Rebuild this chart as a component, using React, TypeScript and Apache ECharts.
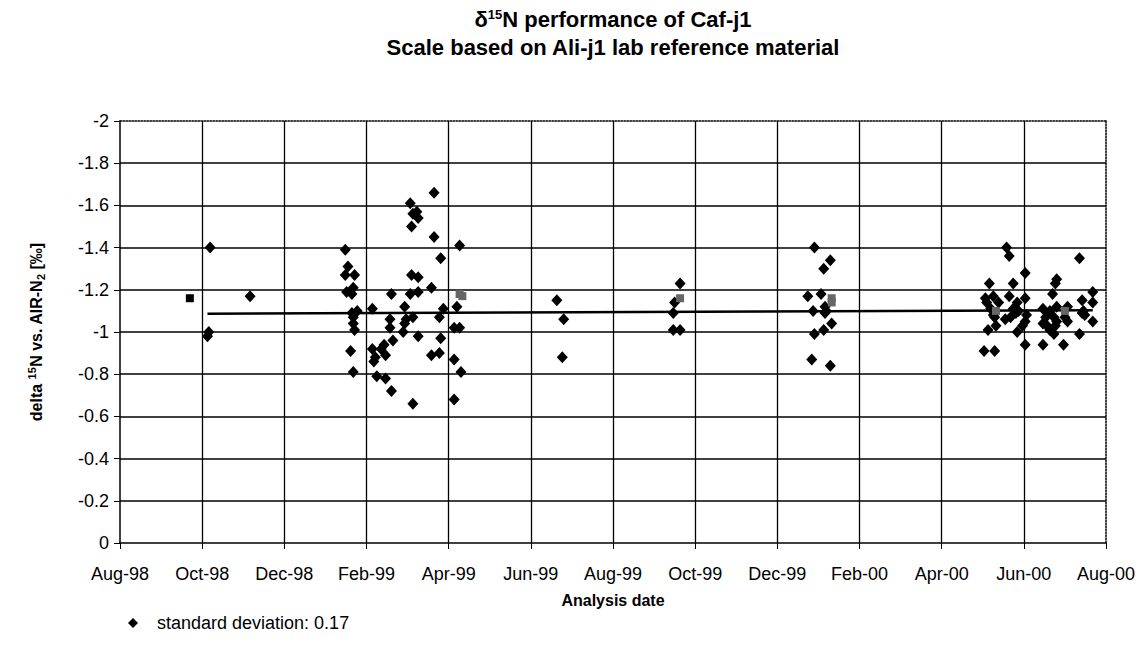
import React, { useEffect, useRef } from 'react';
import * as echarts from 'echarts';

const xTickLabels = ['Aug-98', 'Oct-98', 'Dec-98', 'Feb-99', 'Apr-99', 'Jun-99', 'Aug-99', 'Oct-99', 'Dec-99', 'Feb-00', 'Apr-00', 'Jun-00', 'Aug-00'];

const legendName = 'standard deviation: 0.17';

// [analysis date, delta 15N]
const autumn98: [string, number][] = [
  ['1998-10-07', -1.40], ['1998-10-06', -1.00], ['1998-10-05', -0.98], ['1998-11-06', -1.17],
];

const spring99: [string, number][] = [
  ['1999-03-21', -1.66], ['1999-03-03', -1.61], ['1999-03-05', -1.56], ['1999-03-08', -1.57],
  ['1999-03-09', -1.54], ['1999-03-04', -1.50], ['1999-03-21', -1.45], ['1999-04-09', -1.41],
  ['1999-01-16', -1.39], ['1999-03-26', -1.35], ['1999-01-18', -1.31], ['1999-01-16', -1.27],
  ['1999-01-23', -1.27], ['1999-03-04', -1.27], ['1999-03-09', -1.26], ['1999-03-19', -1.21],
  ['1999-01-17', -1.19], ['1999-01-22', -1.21], ['1999-01-21', -1.18], ['1999-02-18', -1.18],
  ['1999-03-03', -1.18], ['1999-03-09', -1.19], ['1999-04-07', -1.12], ['1999-02-27', -1.12],
  ['1999-02-05', -1.11], ['1999-03-28', -1.11], ['1999-01-21', -1.09], ['1999-01-25', -1.10],
  ['1999-01-22', -1.07], ['1999-03-05', -1.07], ['1999-02-28', -1.06], ['1999-03-25', -1.07],
  ['1999-02-17', -1.06], ['1999-02-17', -1.02], ['1999-02-27', -1.04], ['1999-02-26', -1.00],
  ['1999-01-22', -1.04], ['1999-01-23', -1.01], ['1999-04-05', -1.02], ['1999-04-09', -1.02],
  ['1999-03-09', -0.98], ['1999-02-19', -0.96], ['1999-03-26', -0.97], ['1999-02-13', -0.94],
  ['1999-02-11', -0.92], ['1999-02-14', -0.89], ['1999-02-05', -0.92], ['1999-02-07', -0.88],
  ['1999-02-06', -0.86], ['1999-01-20', -0.91], ['1999-03-19', -0.89], ['1999-03-25', -0.90],
  ['1999-04-05', -0.87], ['1999-01-22', -0.81], ['1999-04-10', -0.81], ['1999-02-08', -0.79],
  ['1999-02-14', -0.78], ['1999-02-18', -0.72], ['1999-04-05', -0.68], ['1999-03-05', -0.66],
];

const summer99: [string, number][] = [
  ['1999-06-20', -1.15], ['1999-06-25', -1.06], ['1999-06-24', -0.88],
  ['1999-09-20', -1.23], ['1999-09-16', -1.14], ['1999-09-15', -1.09], ['1999-09-15', -1.01],
  ['1999-09-20', -1.01],
];

const winter00: [string, number][] = [
  ['1999-12-29', -1.40], ['2000-01-10', -1.34], ['2000-01-05', -1.30], ['1999-12-24', -1.17],
  ['2000-01-03', -1.18], ['1999-12-28', -1.10], ['2000-01-06', -1.12], ['2000-01-06', -1.09],
  ['2000-01-07', -1.10], ['2000-01-11', -1.04], ['2000-01-05', -1.01], ['1999-12-29', -0.99],
  ['1999-12-27', -0.87], ['2000-01-10', -0.84],
];

const summer00: [string, number][] = [
  ['2000-05-19', -1.40], ['2000-05-21', -1.36], ['2000-07-12', -1.35], ['2000-06-02', -1.28],
  ['2000-06-25', -1.25], ['2000-06-24', -1.23], ['2000-05-06', -1.23], ['2000-05-24', -1.23],
  ['2000-07-22', -1.19], ['2000-06-22', -1.18], ['2000-05-03', -1.16], ['2000-05-09', -1.17],
  ['2000-05-13', -1.14], ['2000-05-21', -1.17], ['2000-06-02', -1.16], ['2000-05-27', -1.14],
  ['2000-07-14', -1.15], ['2000-07-22', -1.14], ['2000-05-04', -1.14], ['2000-05-07', -1.11],
  ['2000-05-24', -1.11], ['2000-05-28', -1.10], ['2000-05-26', -1.09], ['2000-06-15', -1.11],
  ['2000-06-25', -1.12], ['2000-06-20', -1.10], ['2000-07-03', -1.12], ['2000-07-15', -1.10],
  ['2000-07-14', -1.09], ['2000-05-09', -1.08], ['2000-05-10', -1.07], ['2000-05-22', -1.07],
  ['2000-05-18', -1.06], ['2000-06-03', -1.08], ['2000-06-02', -1.05], ['2000-05-31', -1.03],
  ['2000-06-17', -1.07], ['2000-06-15', -1.04], ['2000-06-18', -1.03], ['2000-06-23', -1.07],
  ['2000-06-25', -1.05], ['2000-06-20', -1.01], ['2000-06-24', -1.03], ['2000-06-23', -0.99],
  ['2000-07-01', -1.07], ['2000-07-03', -1.05], ['2000-07-16', -1.08], ['2000-07-22', -1.05],
  ['2000-05-11', -1.03], ['2000-05-05', -1.01], ['2000-05-27', -1.00], ['2000-07-12', -0.99],
  ['2000-06-02', -0.94], ['2000-06-15', -0.94], ['2000-06-30', -0.94], ['2000-05-02', -0.91],
  ['2000-05-10', -0.91],
];

const blackSquares: [string, number][] = [['1998-09-22', -1.16]];

const graySquares: [string, number][] = [
  ['1999-04-09', -1.18], ['1999-04-11', -1.17], ['1999-09-20', -1.16],
  ['2000-01-11', -1.16], ['2000-01-11', -1.14], ['2000-05-11', -1.10], ['2000-07-01', -1.10],
];

const trendLine: [string, number][] = [['1998-10-05', -1.087], ['2000-07-22', -1.103]];

// months elapsed since 1 Aug 1998
function toMonths(d: string): number {
  const [y, m, day] = d.split('-').map(Number);
  const dim = new Date(y, m, 0).getDate();
  return (y - 1998) * 12 + (m - 8) + (day - 1) / dim;
}
const toPoints = (arr: [string, number][]) => arr.map(([d, v]) => [toMonths(d), v]);

const FONT = '"Liberation Sans", Arial, Helvetica, sans-serif';

export default function App() {
  const ref = useRef<HTMLDivElement>(null);
  useEffect(() => {
    document.body.style.margin = '0';
    if (!ref.current) return;
    const chart = echarts.init(ref.current, undefined, { renderer: 'svg' });
    const diamonds = [...autumn98, ...spring99, ...summer99, ...winter00, ...summer00];
    chart.setOption({
      animation: false,
      backgroundColor: '#fff',
      textStyle: { fontFamily: FONT, color: '#000' },
      grid: { left: 120, right: 32, top: 121, bottom: 110, containLabel: false },
      legend: {
        data: [legendName],
        left: 123,
        top: 609,
        icon: 'diamond',
        itemWidth: 10,
        itemHeight: 10,
        textStyle: { fontFamily: FONT, fontSize: 18, color: '#000', padding: [0, 0, 0, 14] },
      },
      xAxis: [
        {
          type: 'value',
          min: 0,
          max: 24,
          interval: 2,
          position: 'bottom',
          name: 'Analysis date',
          nameLocation: 'middle',
          nameGap: 49,
          nameTextStyle: { fontFamily: FONT, fontWeight: 'bold', fontSize: 16, color: '#000' },
          axisLine: { show: true, onZero: false, lineStyle: { color: '#000', width: 1.5 } },
          axisTick: { show: true, length: 6, lineStyle: { color: '#000', width: 1 } },
          axisLabel: {
            formatter: (v: number) => xTickLabels[Math.round(v / 2)] ?? '',
            fontSize: 18,
            color: '#000',
            margin: 22,
            fontFamily: FONT,
          },
          splitLine: { show: true, showMinLine: false, showMaxLine: false, lineStyle: { color: '#000', width: 1.3 } },
        },
        {
          type: 'value',
          min: 0,
          max: 24,
          position: 'top',
          axisLine: { show: true, onZero: false, lineStyle: { color: '#000', width: 1.5, type: 'dotted' } },
          axisTick: { show: false },
          axisLabel: { show: false },
          splitLine: { show: false },
        },
      ],
      yAxis: [
        {
          type: 'value',
          min: -2,
          max: 0,
          interval: 0.2,
          inverse: true,
          axisLine: { show: true, onZero: false, lineStyle: { color: '#000', width: 1.5 } },
          axisTick: { show: true, length: 6, lineStyle: { color: '#000', width: 1 } },
          axisLabel: {
            formatter: (v: number) => String(Math.round(v * 10) / 10),
            fontSize: 18,
            color: '#000',
            margin: 11,
            fontFamily: FONT,
          },
          splitLine: { show: true, showMinLine: false, showMaxLine: false, lineStyle: { color: '#000', width: 1.6 } },
        },
        {
          type: 'value',
          min: -2,
          max: 0,
          inverse: true,
          position: 'right',
          axisLine: { show: true, onZero: false, lineStyle: { color: '#000', width: 1.5, type: 'dotted' } },
          axisTick: { show: false },
          axisLabel: { show: false },
          splitLine: { show: false },
        },
      ],
      graphic: [
        {
          type: 'text',
          x: 613,
          y: 19,
          style: {
            text: 'δ{sup|15}N performance of Caf-j1',
            fontFamily: FONT,
            fontSize: 22,
            fontWeight: 'bold',
            fill: '#000',
            align: 'center',
            verticalAlign: 'middle',
            rich: {
              sup: { fontSize: 13, fontWeight: 'bold', fontFamily: FONT, verticalAlign: 'top', lineHeight: 14, fill: '#000' },
            },
          },
        },
        {
          type: 'text',
          x: 613,
          y: 47,
          style: {
            text: 'Scale based on Ali-j1 lab reference material',
            fontFamily: FONT,
            fontSize: 22,
            fontWeight: 'bold',
            fill: '#000',
            align: 'center',
            verticalAlign: 'middle',
          },
        },
        {
          type: 'text',
          x: 36,
          y: 332,
          rotation: Math.PI / 2,
          style: {
            text: 'delta {sup|15}N vs. AIR-N{sub|2} [‰]',
            fontFamily: FONT,
            fontSize: 16,
            fontWeight: 'bold',
            fill: '#000',
            align: 'center',
            verticalAlign: 'middle',
            lineHeight: 20,
            rich: {
              sup: { fontSize: 11, fontWeight: 'bold', fontFamily: FONT, verticalAlign: 'top', lineHeight: 12, fill: '#000' },
              sub: { fontSize: 11, fontWeight: 'bold', fontFamily: FONT, verticalAlign: 'bottom', lineHeight: 12, fill: '#000' },
            },
          },
        },
      ],
      series: [
        {
          name: 'trend',
          type: 'line',
          data: toPoints(trendLine),
          showSymbol: false,
          symbol: 'none',
          lineStyle: { color: '#000', width: 2.5 },
          z: 3,
          silent: true,
        },
        {
          name: legendName,
          type: 'scatter',
          symbol: 'diamond',
          symbolSize: [11, 12],
          data: toPoints(diamonds),
          itemStyle: { color: '#000', opacity: 1 },
          z: 4,
        },
        {
          name: 'reference square',
          type: 'scatter',
          symbol: 'rect',
          symbolSize: 8,
          data: toPoints(blackSquares),
          itemStyle: { color: '#000', opacity: 1 },
          z: 4,
        },
        {
          name: 'check squares',
          type: 'scatter',
          symbol: 'rect',
          symbolSize: 8,
          data: toPoints(graySquares),
          itemStyle: { color: '#666', opacity: 1 },
          z: 5,
        },
      ],
    });
    return () => chart.dispose();
  }, []);
  return <div ref={ref} style={{ width: 1138, height: 653 }} />;
}
